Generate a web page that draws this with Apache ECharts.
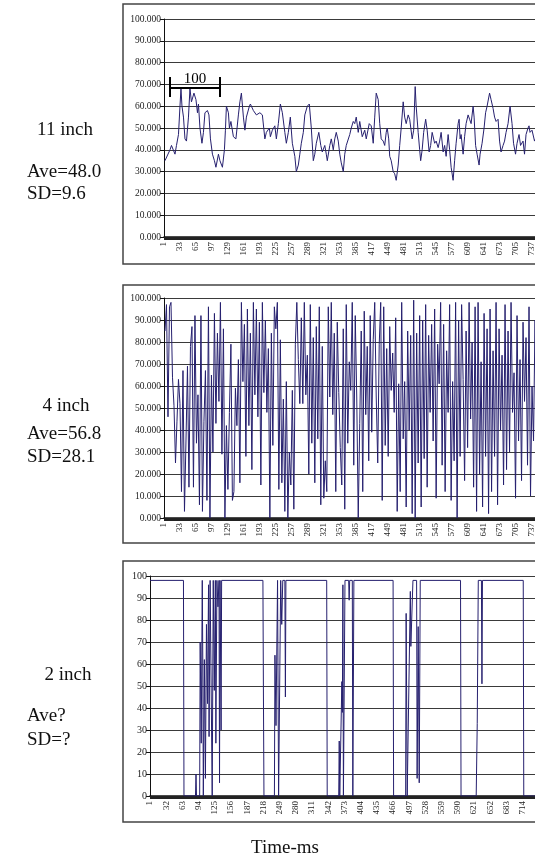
<!DOCTYPE html>
<html><head><meta charset="utf-8">
<script src="https://cdn.jsdelivr.net/npm/echarts@6/dist/echarts.min.js"></script>
<style>html,body{margin:0;padding:0;overflow:hidden;background:#fff;width:535px;height:857px}#c{width:580px;height:857px}</style>
</head><body><div id="c"></div>
<script>
// ---- data ----
const N_CATS = 770;
const yTicks = [0,10,20,30,40,50,60,70,80,90,100];

// 11 inch panel: time (ms) and value
const t11 = [3,13,16,23,26,30,33,35,37,40,43,46,50,53,56,61,65,68,70,73,77,80,83,88,91,94,98,102,105,110,113,118,122,124,126,130,132,135,140,145,150,153,156,160,163,166,172,174,180,186,193,198,203,206,212,214,218,223,226,230,234,238,243,246,250,254,258,263,266,270,273,276,280,283,288,292,296,300,303,306,311,315,318,323,326,328,333,336,340,343,346,350,353,356,360,363,366,370,373,376,380,383,386,390,393,398,403,406,412,416,420,423,426,430,433,436,440,443,446,448,451,453,456,460,463,466,470,473,476,480,483,486,490,493,498,501,504,506,510,513,515,518,521,525,528,532,535,538,543,546,550,553,556,560,563,566,570,573,576,580,583,586,590,592,594,596,600,603,606,610,613,616,620,622,625,628,632,634,638,642,645,648,653,656,660,663,666,670,673,676,680,683,686,690,694,698,701,705,708,712,715,720,723,726,730,732,734,738,743,748,754,760];
const v11 = [35,40,42,38,42,47,60,68,60,55,45,44,55,68,62,66,63,57,61,50,43,48,57,58,56,45,38,35,32,38,35,32,40,49,60,57,50,53,46,45,56,62,66,55,49,55,60,61,58,56,57,56,45,48,50,46,49,51,45,52,61,57,48,43,48,55,43,37,30,33,38,43,48,56,60,61,50,35,38,43,48,42,39,42,38,35,42,45,40,45,48,44,38,34,30,38,42,42,47,50,53,52,55,48,53,46,49,45,52,51,43,55,66,63,52,45,44,42,48,50,45,37,35,30,29,26,33,42,50,62,55,52,56,54,45,49,69,60,48,40,35,40,48,54,49,39,42,48,43,44,41,44,48,39,42,37,47,40,32,26,35,43,52,54,45,47,38,46,52,56,54,52,60,55,42,38,33,38,43,50,57,60,66,63,59,55,53,54,44,39,42,44,48,52,60,52,43,38,43,47,42,44,38,47,50,51,48,49,44,47,43,46];

// 4 inch panel: one value every STEP4 ms, starting at T4_START
const T4_START = 3, STEP4 = 3;
const v4 = [85,97,46,96,98,64,51,25,44,63,
 52,12,67,3,35,69,14,78,87,14,
 92,34,56,6,92,3,44,67,8,96,
 0,65,30,93,43,84,53,98,29,86,
 0,42,13,48,79,8,12,59,42,72,
 16,98,62,88,28,95,42,84,22,98,
 56,95,46,89,15,98,57,90,48,77,
 0,84,33,96,86,98,13,81,16,54,
 3,62,0,30,15,58,4,79,98,72,
 52,91,52,98,56,74,20,97,34,82,
 16,87,36,96,6,78,9,26,12,96,
 55,98,47,84,12,89,57,32,15,86,
 4,97,34,71,58,98,24,92,55,0,
 43,85,12,94,47,78,26,92,39,81,
 98,55,25,79,98,8,96,33,77,28,
 87,58,75,48,91,3,61,12,98,36,
 62,5,85,40,83,2,99,0,84,25,
 92,5,90,27,97,14,83,48,88,35,
 95,9,79,61,98,24,88,12,76,48,
 97,8,62,26,98,0,90,28,97,63,
 17,85,32,98,45,80,14,96,3,98,
 20,71,5,93,28,86,2,95,12,76,
 28,98,6,86,40,74,15,97,22,85,
 30,98,48,66,9,92,35,72,17,89,
 53,82,24,96,10,60,35,90,15,88,
 40,91,94,26];

// 2 inch panel: time (ms) and value
const t2 = [1,65,66,88,89,90,96,97,99,101,102,103,105,107,109,111,113,114,116,119,120,122,124,126,127,129,131,133,134,135,137,138,217,218,219,239,240,242,245,247,251,253,255,259,260,261,339,340,362,363,364,367,368,369,370,371,373,374,381,382,383,388,389,390,391,466,467,490,491,493,495,499,500,504,511,512,514,516,518,595,596,625,627,629,635,636,637,715,716,770];
const v2 = [98,98,0,0,10,0,0,70,24,98,60,0,62,8,78,42,96,27,98,98,0,98,48,98,24,98,86,98,6,98,30,98,98,45,0,0,64,32,98,0,98,78,98,98,45,98,98,0,0,25,0,0,52,38,96,0,0,98,98,89,98,98,0,0,98,98,0,0,83,0,0,93,68,98,98,8,77,6,98,98,0,0,33,98,98,51,98,98,0,0];

const scaleBar = {from: 13, to: 113, y: 68.3, tickLo: 64.2, tickHi: 73.4, label: '100'};

// ---- build ----
const cats = [];
for (let i = 1; i <= N_CATS; i++) cats.push(String(i));
const pairs = (ts, vs) => ts.map((t, k) => [t - 1, vs[k]]);
const d11 = pairs(t11, v11);
const d4 = v4.map((v, k) => [T4_START - 1 + k * STEP4, v]);
const d2 = pairs(t2, v2);

const serif = 'Liberation Serif, Times New Roman, serif';
const LINE = '#26206f';

function xAxis(gi, interval) {
  return {
    type: 'category', gridIndex: gi, data: cats, boundaryGap: false,
    axisLine: {show: true, lineStyle: {color: '#111', width: 1.5}},
    axisTick: {show: true, interval: 0, length: 3, lineStyle: {color: '#222', width: 1}},
    axisLabel: {interval: interval, rotate: 90, fontFamily: serif, fontSize: 9, color: '#222', margin: 5},
    splitLine: {show: false}
  };
}
function yAxis(gi, dec) {
  return {
    type: 'value', gridIndex: gi, min: 0, max: 100, interval: 10,
    axisLine: {show: true, lineStyle: {color: '#111', width: 1}},
    axisTick: {show: true, length: 4, lineStyle: {color: '#111'}},
    axisLabel: {fontFamily: serif, fontSize: dec ? 9.5 : 10, color: '#222', margin: 3,
      formatter: v => dec ? v.toFixed(3) : String(v)},
    splitLine: {show: true, lineStyle: {color: '#3a3a3a', width: 1}}
  };
}
const lineSeries = (gi, data) => ({
  type: 'line', xAxisIndex: gi, yAxisIndex: gi, data: data, symbol: 'none',
  lineStyle: {color: LINE, width: 1}, animation: false, silent: true
});

const sb = scaleBar;
const s0 = lineSeries(0, d11);
s0.markLine = {
  silent: true, symbol: 'none', animation: false,
  lineStyle: {color: '#000', width: 2, type: 'solid'},
  label: {show: false},
  data: [
    [{coord: [String(sb.from), sb.y], label: {show: true, position: 'middle', formatter: sb.label, fontFamily: serif, fontSize: 15, color: '#000', distance: 2}},
     {coord: [String(sb.to), sb.y]}],
    [{coord: [String(sb.from), sb.tickLo]}, {coord: [String(sb.from), sb.tickHi]}],
    [{coord: [String(sb.to), sb.tickLo]}, {coord: [String(sb.to), sb.tickHi]}]
  ]
};

const txt = (x, y, s, align) => ({type: 'text', left: undefined, x: x, y: y,
  style: {text: s, font: '19px ' + serif, fill: '#111', textAlign: align || 'left', textVerticalAlign: 'middle'}});
const box = (y, h, x) => ({type: 'rect', shape: {x: x || 123, y: y, width: 460, height: h},
  style: {fill: null, stroke: '#444', lineWidth: 1.5}, z: -1});

const chart = echarts.init(document.getElementById('c'), null, {renderer: 'canvas'});
chart.setOption({
  animation: false,
  backgroundColor: '#fff',
  grid: [
    {left: 164, top: 19, width: 384, height: 218},
    {left: 164, top: 298, width: 384, height: 220},
    {left: 150, top: 576, width: 402, height: 220}
  ],
  xAxis: [xAxis(0, 31), xAxis(1, 31), xAxis(2, 30)],
  yAxis: [yAxis(0, true), yAxis(1, true), yAxis(2, false)],
  series: [s0, lineSeries(1, d4), lineSeries(2, d2)],
  graphic: [
    box(4, 260), box(285, 258), box(561, 261),
    txt(65, 130, '11 inch', 'center'), txt(27, 172, 'Ave=48.0'), txt(27, 194, 'SD=9.6'),
    txt(66, 406, '4 inch', 'center'), txt(27, 434, 'Ave=56.8'), txt(27, 457, 'SD=28.1'),
    txt(68, 675, '2 inch', 'center'), txt(27, 716, 'Ave?'), txt(27, 740, 'SD=?'),
    txt(285, 848, 'Time-ms', 'center')
  ]
});
</script></body></html>
